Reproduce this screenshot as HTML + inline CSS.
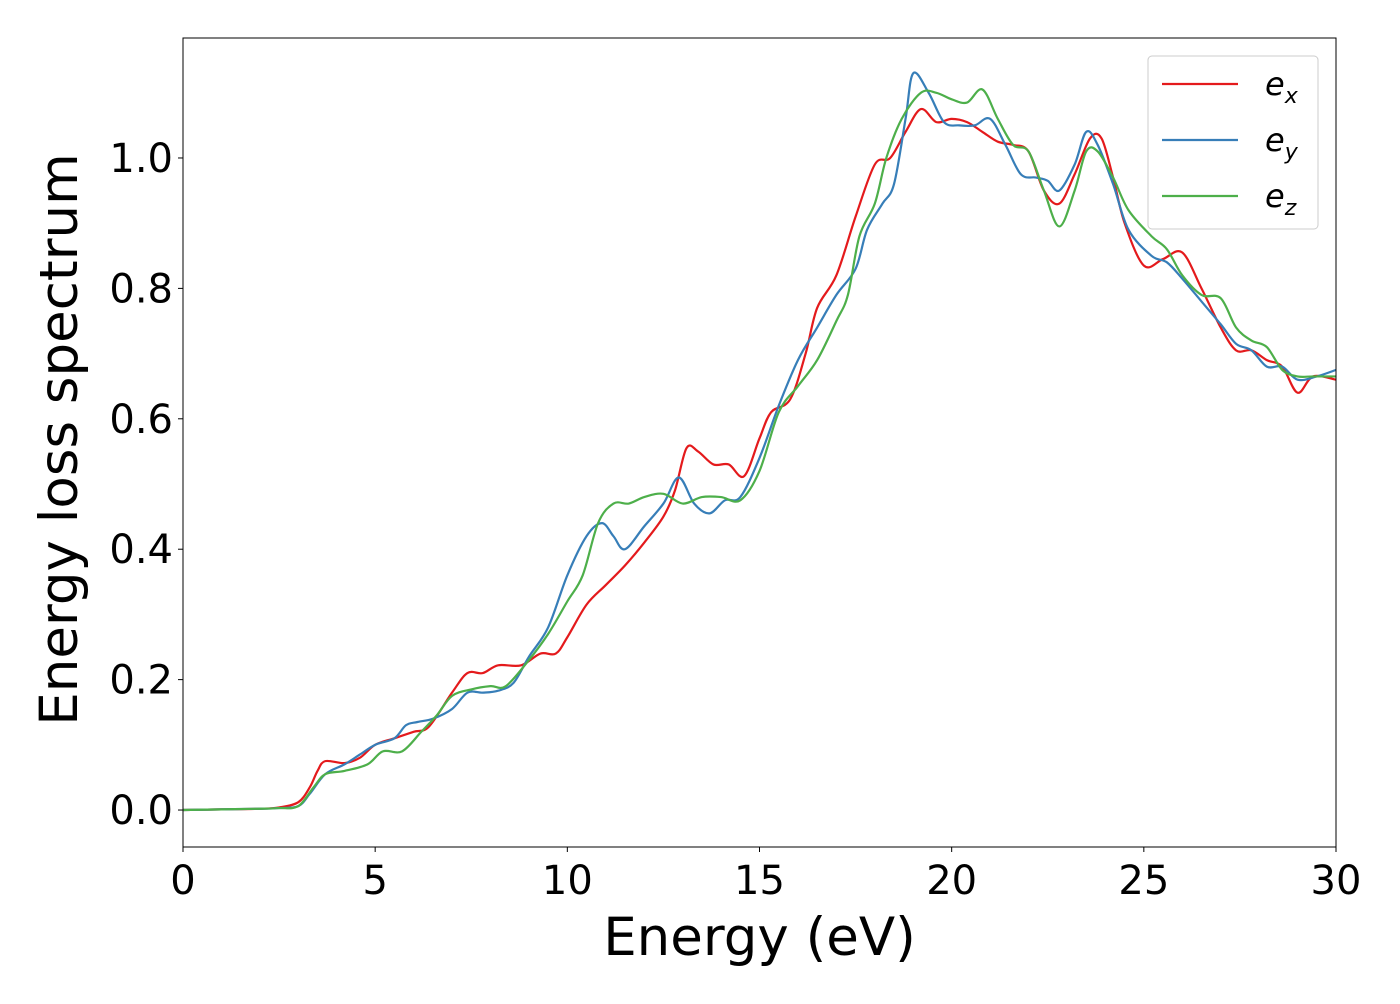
<!DOCTYPE html>
<html><head><meta charset="utf-8"><style>
body{margin:0;background:#fff;font-family:"DejaVu Sans","Liberation Sans",sans-serif}
</style></head><body>
<svg id="chart" width="1400" height="1000" xmlns="http://www.w3.org/2000/svg" font-family="DejaVu Sans, Liberation Sans, sans-serif">
<rect width="1400" height="1000" fill="#fff"/>
<g id="plot"></g>
</svg>
<script>
const exX=[0,1,2,2.5,3,3.3,3.5,3.7,4.2,4.6,5,5.5,6,6.4,7,7.4,7.8,8.2,8.8,9.3,9.7,10,10.5,11,11.5,12,12.5,12.8,13.1,13.4,13.8,14.2,14.6,15,15.3,15.8,16.2,16.5,17,17.5,18,18.4,18.8,19.2,19.6,20,20.4,20.8,21.2,21.6,22,22.4,22.8,23.2,23.6,23.9,24.2,24.5,25,25.5,26,26.5,27,27.4,27.8,28.2,28.6,29,29.4,30];
const exY=[0,0.001,0.002,0.004,0.012,0.035,0.06,0.075,0.072,0.08,0.1,0.11,0.12,0.128,0.18,0.21,0.21,0.222,0.222,0.24,0.24,0.265,0.315,0.345,0.375,0.41,0.45,0.49,0.555,0.55,0.53,0.53,0.512,0.57,0.61,0.63,0.7,0.77,0.82,0.91,0.99,1.0,1.04,1.075,1.055,1.06,1.055,1.04,1.025,1.02,1.01,0.95,0.93,0.975,1.03,1.03,0.97,0.9,0.835,0.845,0.855,0.8,0.74,0.705,0.705,0.69,0.68,0.64,0.665,0.66];
const eyX=[0,1,2,2.5,3,3.3,3.7,4.2,4.6,5,5.5,5.8,6.1,6.5,7,7.4,7.8,8.2,8.6,9,9.5,10,10.5,10.9,11.2,11.5,12,12.5,12.9,13.3,13.7,14.1,14.5,15,15.5,16,16.5,17,17.5,17.8,18.2,18.5,18.8,19,19.4,19.8,20.2,20.6,21,21.4,21.8,22.2,22.5,22.8,23.2,23.5,23.8,24.2,24.6,25.2,25.6,26,26.5,27,27.4,27.8,28.2,28.6,29,29.5,30];
const eyY=[0,0.001,0.002,0.003,0.006,0.025,0.055,0.07,0.085,0.1,0.11,0.13,0.135,0.14,0.155,0.18,0.18,0.183,0.195,0.235,0.28,0.36,0.42,0.44,0.42,0.4,0.435,0.47,0.51,0.47,0.455,0.475,0.48,0.54,0.62,0.69,0.74,0.79,0.83,0.89,0.93,0.96,1.06,1.13,1.1,1.055,1.05,1.05,1.06,1.02,0.975,0.97,0.965,0.95,0.99,1.04,1.02,0.96,0.89,0.85,0.84,0.815,0.78,0.745,0.715,0.705,0.68,0.68,0.66,0.665,0.675];
const ezX=[0,1,2,2.5,3,3.4,3.7,4.2,4.8,5.2,5.7,6.2,6.6,7,7.5,8,8.4,9,9.5,10,10.4,10.8,11.2,11.6,12,12.5,13,13.5,14,14.5,15,15.5,16,16.5,17,17.3,17.6,18,18.3,18.7,19.2,19.6,20,20.4,20.8,21.2,21.6,22,22.4,22.8,23.2,23.5,23.8,24.2,24.6,25.2,25.6,26,26.5,27,27.4,27.8,28.2,28.6,29,29.4,30];
const ezY=[0,0.001,0.002,0.003,0.006,0.035,0.055,0.06,0.07,0.09,0.09,0.12,0.145,0.175,0.185,0.19,0.19,0.23,0.27,0.32,0.36,0.44,0.47,0.47,0.48,0.485,0.47,0.48,0.48,0.475,0.52,0.61,0.65,0.69,0.75,0.79,0.88,0.93,1.0,1.06,1.1,1.1,1.09,1.085,1.105,1.06,1.02,1.01,0.95,0.895,0.95,1.01,1.01,0.97,0.92,0.88,0.86,0.82,0.79,0.785,0.74,0.72,0.71,0.675,0.665,0.665,0.665];
const xTicks=[0,5,10,15,20,25,30];
const yTicks=[0.0,0.2,0.4,0.6,0.8,1.0];
const L=183,R=1336,T=38,B=847;
const xMin=0,xMax=30,yMin=-0.0567,yMax=1.184;
const sx=v=>L+(v-xMin)/(xMax-xMin)*(R-L);
const sy=v=>B-(v-yMin)/(yMax-yMin)*(B-T);
const NS="http://www.w3.org/2000/svg";
const g=document.getElementById('plot');
function mk(tag,attrs,parent){const e=document.createElementNS(NS,tag);for(const k in attrs)e.setAttribute(k,attrs[k]);(parent||g).appendChild(e);return e;}
function path(xs,ys){const p=xs.map((x,i)=>[sx(x),sy(ys[i])]);let d=`M${p[0][0]},${p[0][1]}`;
for(let i=0;i<p.length-1;i++){const p0=p[Math.max(0,i-1)],p1=p[i],p2=p[i+1],p3=p[Math.min(p.length-1,i+2)];
const c1=[p1[0]+(p2[0]-p0[0])/6,p1[1]+(p2[1]-p0[1])/6],c2=[p2[0]-(p3[0]-p1[0])/6,p2[1]-(p3[1]-p1[1])/6];
d+=`C${c1[0]},${c1[1]} ${c2[0]},${c2[1]} ${p2[0]},${p2[1]}`;}return d;}
const series=[['ex',exX,exY,'#e41a1c'],['ey',eyX,eyY,'#377eb8'],['ez',ezX,ezY,'#4daf4a']];
const clip=mk('clipPath',{id:'cp'});mk('rect',{x:L,y:T,width:R-L,height:B-T},clip);
series.forEach(s=>{const e=mk('path',{d:path(s[1],s[2]),fill:'none',stroke:s[3],'stroke-width':2.2,'clip-path':'url(#cp)'});

});
const fr=mk('rect',{x:L,y:T,width:R-L,height:B-T,fill:'none',stroke:'#000','stroke-width':1});


xTicks.forEach(t=>{mk('line',{x1:sx(t),x2:sx(t),y1:B,y2:B+5,stroke:'#000'});
const e=mk('text',{x:sx(t),y:B+47,'text-anchor':'middle','font-size':40});e.textContent=t;

});
yTicks.forEach(t=>{mk('line',{x1:L-5,x2:L,y1:sy(t),y2:sy(t),stroke:'#000'});
const e=mk('text',{x:L-10,y:sy(t)+14,'text-anchor':'end','font-size':40});e.textContent=t.toFixed(1);

});
let e=mk('text',{x:(L+R)/2,y:955,'text-anchor':'middle','font-size':53});e.textContent='Energy (eV)';


e=mk('text',{x:0,y:0,'text-anchor':'middle','font-size':53,transform:`translate(77,${(T+B)/2-3}) rotate(-90)`});e.textContent='Energy loss spectrum';


const lg=mk('g',{});


mk('rect',{x:1148,y:56,width:170,height:173,rx:4,fill:'#fff',stroke:'#ccc','stroke-width':1},lg);
series.forEach((s,i)=>{const y=84+i*56;mk('line',{x1:1162,x2:1238,y1:y,y2:y,stroke:s[3],'stroke-width':2.2},lg);
const t=mk('text',{x:1265,y:y+11,'font-size':32,'font-style':'italic'},lg);t.textContent='e';
const sub=mk('tspan',{'font-size':22,dy:8},t);sub.textContent=s[0][1];

});
</script>
</body></html>
